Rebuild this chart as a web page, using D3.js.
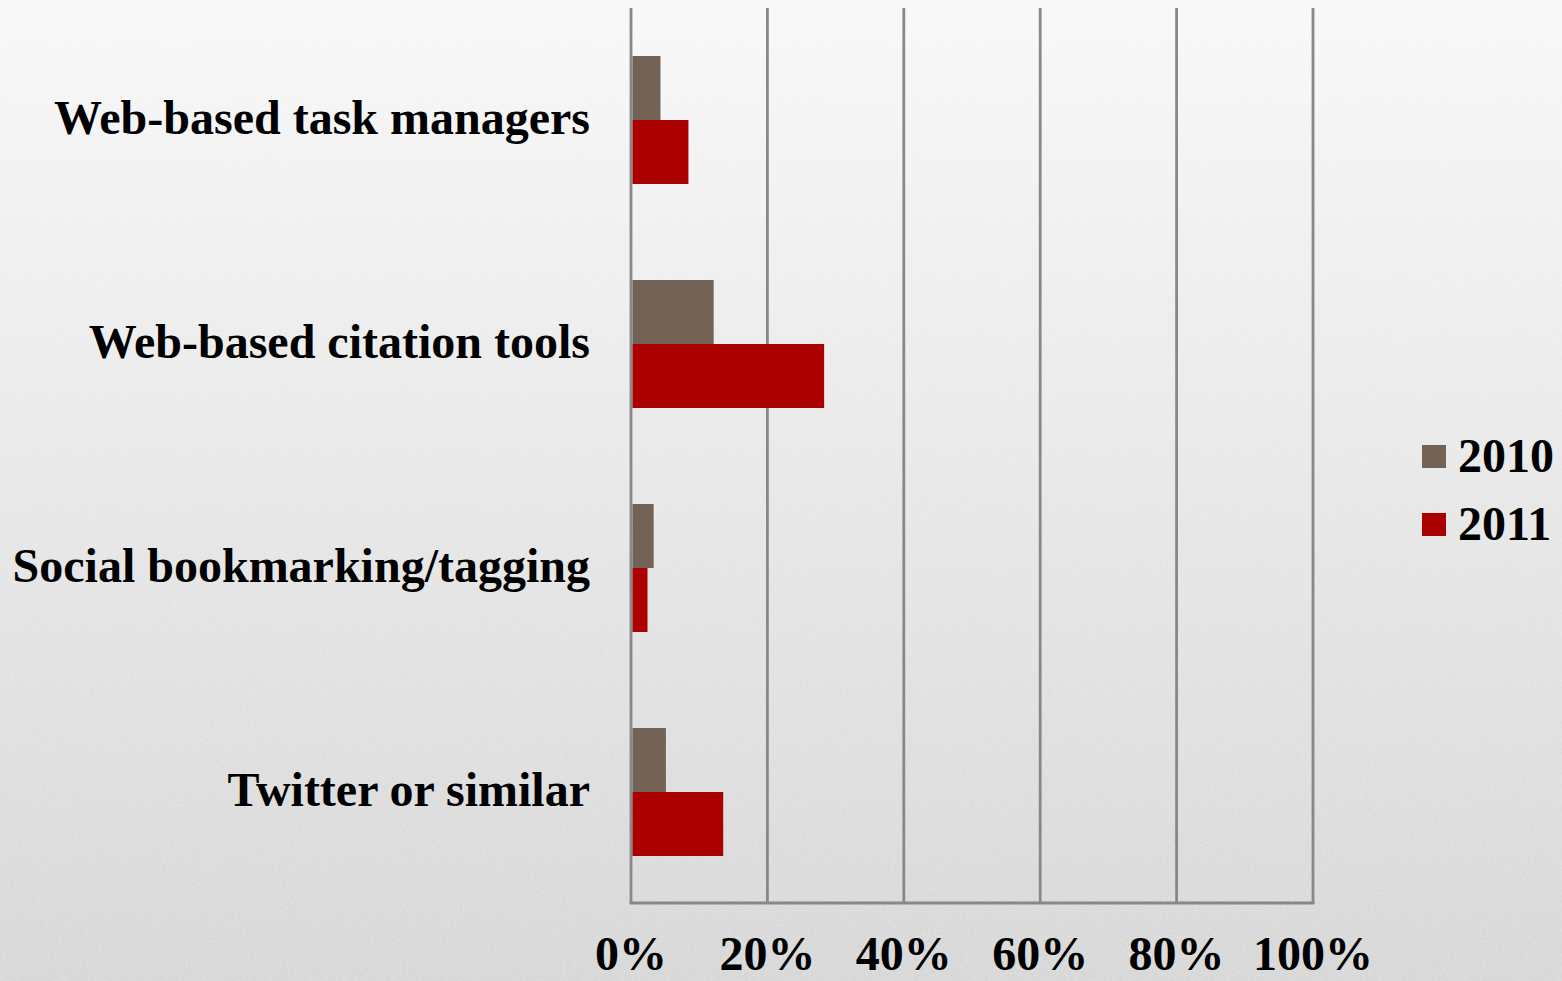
<!DOCTYPE html>
<html>
<head>
<meta charset="utf-8">
<script src="https://cdn.jsdelivr.net/npm/d3@7"></script>
<style>
  html, body { margin: 0; padding: 0; }
  body { width: 1562px; height: 981px; overflow: hidden; }
  text { font-family: "Liberation Serif", "Times New Roman", serif; font-weight: bold; fill: #000; }
</style>
</head>
<body>
<div id="chart"></div>
<script>
var categories = ["Web-based task managers", "Web-based citation tools", "Social bookmarking/tagging", "Twitter or similar"];
var years = ["2010", "2011"];
var values2010 = [0.041, 0.119, 0.031, 0.049];
var values2011 = [0.082, 0.281, 0.022, 0.133];
var tickValues = [0, 0.2, 0.4, 0.6, 0.8, 1.0];
var colors = ["#736357", "#aa0000"];

var width = 1562;
var height = 981;
var margin = {top: 8, right: 248, bottom: 77, left: 631};

var svg = d3.select("#chart")
  .append("svg")
  .attr("width", width)
  .attr("height", height);

// background: grey gradient with a light paper texture
var defs = svg.append("defs");
var grad = defs.append("linearGradient")
  .attr("id", "bg")
  .attr("x1", 0).attr("y1", 0).attr("x2", 0).attr("y2", 1);
grad.append("stop").attr("offset", "0%").attr("stop-color", "#f8f8f8");
grad.append("stop").attr("offset", "100%").attr("stop-color", "#d6d6d6");

var noise = defs.append("filter").attr("id", "noise")
  .attr("x", 0).attr("y", 0).attr("width", "100%").attr("height", "100%");
noise.append("feTurbulence")
  .attr("type", "fractalNoise")
  .attr("baseFrequency", "0.35 0.6")
  .attr("numOctaves", 2)
  .attr("seed", 4);
noise.append("feColorMatrix")
  .attr("type", "matrix")
  .attr("values", "0 0 0 0 1  0 0 0 0 1  0 0 0 0 1  0 0 0 0.45 -0.12");

svg.append("rect").attr("width", width).attr("height", height).attr("fill", "url(#bg)");
svg.append("rect").attr("width", width).attr("height", height).attr("filter", "url(#noise)").attr("opacity", 0.7);

var x = d3.scaleLinear()
  .domain([0, 1])
  .range([margin.left, width - margin.right - 1]);

var y = d3.scaleBand()
  .domain(categories)
  .range([margin.top, height - margin.bottom])
  .paddingInner(96 / 224)
  .paddingOuter(48 / 224);

var yInner = d3.scaleBand()
  .domain(years)
  .range([0, y.bandwidth()]);

// vertical gridlines
svg.append("g")
  .selectAll("line")
  .data(tickValues)
  .join("line")
  .attr("x1", d => x(d))
  .attr("x2", d => x(d))
  .attr("y1", margin.top)
  .attr("y2", height - margin.bottom)
  .attr("stroke", "#888888")
  .attr("stroke-width", 2.8);

// bottom axis line
svg.append("line")
  .attr("x1", x(0) - 1.4)
  .attr("x2", x(1) + 1.4)
  .attr("y1", height - margin.bottom - 1)
  .attr("y2", height - margin.bottom - 1)
  .attr("stroke", "#888888")
  .attr("stroke-width", 2.8);

// bars
var groups = svg.append("g")
  .selectAll("g")
  .data(categories)
  .join("g")
  .attr("transform", d => `translate(0,${y(d)})`);

groups.selectAll("rect")
  .data((d, i) => [
    {year: "2010", value: values2010[i]},
    {year: "2011", value: values2011[i]}
  ])
  .join("rect")
  .attr("x", x(0) + 1.5)
  .attr("y", d => yInner(d.year))
  .attr("width", d => x(d.value) - x(0))
  .attr("height", yInner.bandwidth())
  .attr("fill", (d, i) => colors[i]);

// category labels
svg.append("g")
  .selectAll("text")
  .data(categories)
  .join("text")
  .attr("x", 590)
  .attr("y", d => y(d) + y.bandwidth() / 2)
  .attr("dy", "0.3em")
  .attr("text-anchor", "end")
  .attr("font-size", 48)
  .text(d => d);

// x tick labels
svg.append("g")
  .selectAll("text")
  .data(tickValues)
  .join("text")
  .attr("x", d => x(d))
  .attr("y", 970)
  .attr("text-anchor", "middle")
  .attr("font-size", 48)
  .text(d => d3.format(".0%")(d));

// legend
var legend = svg.append("g")
  .selectAll("g")
  .data(years)
  .join("g")
  .attr("transform", (d, i) => `translate(1422,${445 + i * 68})`);

legend.append("rect")
  .attr("width", 24)
  .attr("height", 23)
  .attr("fill", (d, i) => colors[i]);

legend.append("text")
  .attr("x", 36)
  .attr("y", 27)
  .attr("font-size", 48)
  .text(d => d);
</script>
</body>
</html>
